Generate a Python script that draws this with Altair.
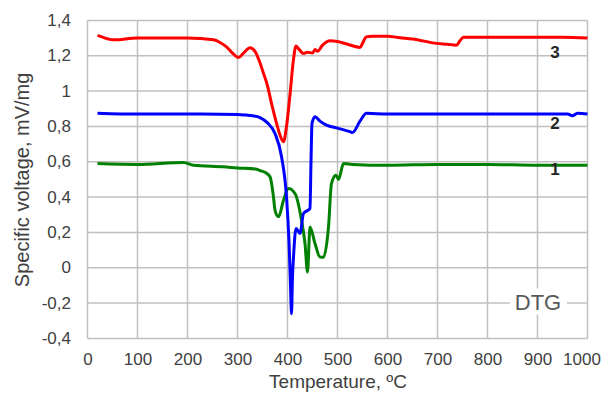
import altair as alt
import pandas as pd

# Curve 3 (red)
t3 = [20, 30, 52, 100, 150, 200, 252, 265, 278, 290, 302, 312, 325, 335, 345, 352, 360, 368, 376, 384, 392, 398, 405, 412, 417, 422, 432, 440, 450, 455, 460, 470, 485, 500, 520, 545, 550, 558, 570, 600, 625, 650, 698, 720, 738, 745, 752, 800, 850, 900, 950, 1000]
v3 = [1.315, 1.305, 1.29, 1.30, 1.30, 1.30, 1.29, 1.275, 1.25, 1.215, 1.19, 1.215, 1.245, 1.225, 1.16, 1.10, 1.03, 0.93, 0.84, 0.76, 0.713, 0.80, 0.98, 1.18, 1.255, 1.24, 1.213, 1.22, 1.215, 1.235, 1.225, 1.26, 1.285, 1.28, 1.265, 1.247, 1.27, 1.308, 1.31, 1.31, 1.302, 1.295, 1.27, 1.265, 1.26, 1.285, 1.305, 1.305, 1.305, 1.305, 1.305, 1.30]

# Curve 2 (blue)
t2 = [20, 100, 200, 300, 318, 330, 345, 360, 375, 388, 398, 403, 406, 408, 410, 412, 417, 425, 432, 445, 447, 449, 455, 465, 478, 500, 525, 530, 545, 558, 600, 700, 800, 900, 960, 970, 980, 1000]
v2 = [0.875, 0.87, 0.87, 0.868, 0.864, 0.86, 0.85, 0.82, 0.76, 0.63, 0.40, 0.15, -0.10, -0.26, -0.05, 0.06, 0.222, 0.194, 0.307, 0.335, 0.60, 0.817, 0.855, 0.83, 0.807, 0.79, 0.77, 0.765, 0.83, 0.874, 0.87, 0.87, 0.87, 0.87, 0.87, 0.86, 0.875, 0.87]

# Curve 1 (green)
t1 = [20, 100, 192, 212, 272, 300, 338, 345, 355, 365, 372, 375, 382, 392, 402, 415, 428, 435, 440, 445, 455, 465, 472, 482, 488, 497, 502, 512, 530, 600, 700, 800, 900, 1000]
v1 = [0.59, 0.585, 0.596, 0.58, 0.571, 0.565, 0.558, 0.55, 0.54, 0.515, 0.40, 0.326, 0.288, 0.382, 0.449, 0.42, 0.269, 0.137, -0.024, 0.231, 0.137, 0.061, 0.06, 0.231, 0.477, 0.524, 0.50, 0.59, 0.585, 0.58, 0.585, 0.585, 0.58, 0.58]

series_names = ["1", "2", "3"]
series_colors = ["#008000", "#0000ff", "#ff0000"]

label_t = [935, 935, 935]
label_v = [0.552, 0.813, 1.214]

x_ticks = [0, 100, 200, 300, 400, 500, 600, 700, 800, 900, 1000]
y_ticks = [-0.4, -0.2, 0, 0.2, 0.4, 0.6, 0.8, 1, 1.2, 1.4]

rows = []
for name, ts, vs in [("1", t1, v1), ("2", t2, v2), ("3", t3, v3)]:
    for t, v in zip(ts, vs):
        rows.append({"T": t, "V": v, "s": name})
df = pd.DataFrame(rows)

lab_df = pd.DataFrame({"T": label_t, "V": label_v, "s": series_names})
dtg_df = pd.DataFrame({"T": [901], "V": [-0.2], "t": ["DTG"], "x1": [845], "x2": [959], "y1": [-0.118], "y2": [-0.265]})
xg_df = pd.DataFrame({"T": x_ticks})
yg_df = pd.DataFrame({"V": y_ticks})

xs = alt.Scale(domain=[0, 1000], nice=False, zero=False)
ys = alt.Scale(domain=[-0.4, 1.4], nice=False, zero=False)

xaxis = alt.Axis(values=x_ticks, format="d", title="Temperature, ºC", grid=False, domain=False, ticks=False,
                 labelBaseline="alphabetic", labelPadding=26, labelFontSize=17, labelOverlap=False,
                 labelOffset={"condition": {"test": "datum.value == 1000", "value": -6}, "value": 0},
                 titleFontSize=19, titleFontWeight="normal", titleX=250, titleY=49,
                 titleBaseline="alphabetic", labelFlush=False)
yaxis = alt.Axis(values=y_ticks, title="Specific voltage, mV/mg", grid=False, domain=False, ticks=False,
                 labelExpr="replace(toString(datum.value), '.', ',')", labelPadding=17, labelOverlap=False,
                 labelFontSize=17, titleFontSize=20, titleFontWeight="normal", labelBaseline="middle",
                 titleX=-55, titleY=159, titleAngle=-90, titleBaseline="bottom", titleAlign="center")

X = lambda f: alt.X(f, scale=xs, axis=xaxis)
Y = lambda f: alt.Y(f, scale=ys, axis=yaxis)

grid_color = "#c0c0c0"
xgrid = alt.Chart(xg_df).mark_rule(color=grid_color, strokeWidth=1.5).encode(x=X("T:Q"))
ygrid = alt.Chart(yg_df).mark_rule(color=grid_color, strokeWidth=1.5).encode(y=Y("V:Q"))

lines = alt.Chart(df).mark_line(strokeWidth=3, interpolate="monotone").encode(
    x=X("T:Q"),
    y=Y("V:Q"),
    color=alt.Color("s:N", scale=alt.Scale(domain=series_names, range=series_colors), legend=None),
    detail="s:N",
)

labels = alt.Chart(lab_df).mark_text(fontSize=17, fontWeight="bold", color="#262626", baseline="middle").encode(
    x=X("T:Q"), y=Y("V:Q"), text="s:N")

box = alt.Chart(dtg_df).mark_rect(color="white").encode(
    x=X("x1:Q"), x2="x2:Q", y=Y("y1:Q"), y2="y2:Q")
dtg = alt.Chart(dtg_df).mark_text(fontSize=22, color="#595959", baseline="middle").encode(
    x=X("T:Q"), y=Y("V:Q"), text="t:N")

chart = alt.layer(xgrid, ygrid, lines, labels, box, dtg).properties(
    width=500, height=318,
    autosize=alt.AutoSizeParams(type="none"),
    padding={"left": 79.5, "top": 12.4, "right": 13, "bottom": 53.6},
).configure(font="Liberation Sans").configure_axis(
    labelColor="#404040", titleColor="#404040", labelOverlap=False,
    labelFont="Liberation Sans", titleFont="Liberation Sans"
).configure_view(stroke=None)

chart.save("out.html", embed_options={"renderer": "svg", "actions": False})
